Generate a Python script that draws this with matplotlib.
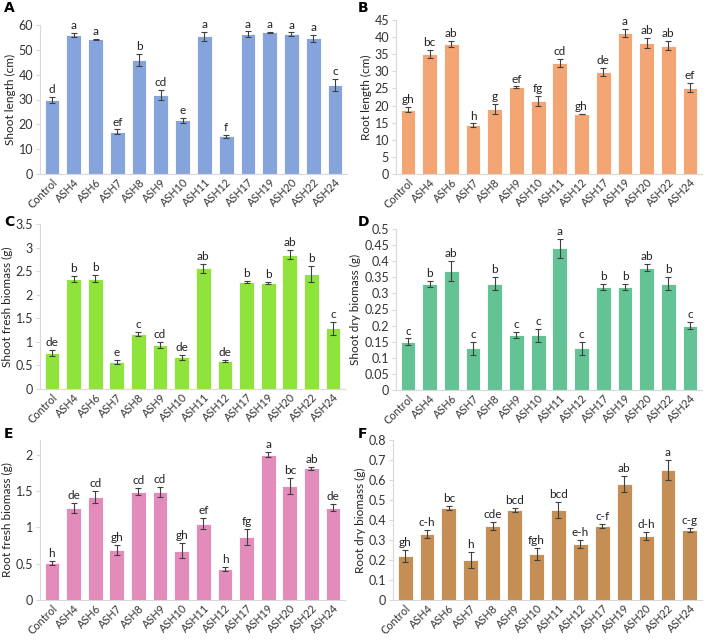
import matplotlib.pyplot as plt
import numpy as np

plt.rcParams['font.family'] = ['Lato', 'DejaVu Sans']

strains = ["Control", "ASH4", "ASH6", "ASH7", "ASH8", "ASH9", "ASH10", "ASH11",
           "ASH12", "ASH17", "ASH19", "ASH20", "ASH22", "ASH24"]

shoot_len = [29.8, 56.0, 54.3, 17.0, 45.8, 32.0, 21.6, 55.4, 15.2, 56.2, 57.0, 56.3, 54.6, 35.8]
shoot_len_err = [1.2, 0.8, 0.2, 1.0, 2.5, 2.0, 1.0, 1.7, 0.6, 1.2, 0.3, 0.7, 1.5, 2.5]
shoot_len_lbl = ["d", "a", "a", "ef", "b", "cd", "e", "a", "f", "a", "a", "a", "a", "c"]

root_len = [18.8, 35.1, 38.0, 14.3, 19.1, 25.4, 21.4, 32.4, 17.5, 29.8, 41.1, 38.3, 37.5, 25.2]
root_len_err = [0.7, 1.1, 1.0, 0.5, 1.5, 0.2, 1.5, 1.2, 0.1, 1.3, 1.2, 1.5, 1.4, 1.3]
root_len_lbl = ["gh", "bc", "ab", "h", "g", "ef", "fg", "cd", "gh", "de", "a", "ab", "ab", "ef"]

shoot_fresh = [0.76, 2.34, 2.34, 0.57, 1.16, 0.94, 0.67, 2.56, 0.59, 2.27, 2.25, 2.85, 2.44, 1.29]
shoot_fresh_err = [0.06, 0.06, 0.08, 0.04, 0.04, 0.06, 0.06, 0.10, 0.02, 0.03, 0.03, 0.10, 0.16, 0.14]
shoot_fresh_lbl = ["de", "b", "b", "e", "c", "cd", "de", "ab", "de", "b", "b", "ab", "b", "c"]

shoot_dry = [0.15, 0.33, 0.37, 0.13, 0.33, 0.17, 0.17, 0.44, 0.13, 0.32, 0.32, 0.38, 0.33, 0.20]
shoot_dry_err = [0.01, 0.01, 0.03, 0.02, 0.02, 0.01, 0.02, 0.03, 0.02, 0.01, 0.01, 0.01, 0.02, 0.01]
shoot_dry_lbl = ["c", "b", "ab", "c", "b", "c", "c", "a", "c", "b", "b", "ab", "b", "c"]

root_fresh = [0.51, 1.26, 1.42, 0.69, 1.49, 1.48, 0.68, 1.05, 0.43, 0.87, 2.00, 1.57, 1.81, 1.27]
root_fresh_err = [0.03, 0.07, 0.08, 0.07, 0.05, 0.07, 0.10, 0.08, 0.03, 0.11, 0.03, 0.11, 0.02, 0.05]
root_fresh_lbl = ["h", "de", "cd", "gh", "cd", "cd", "gh", "ef", "h", "fg", "a", "bc", "ab", "de"]

root_dry = [0.22, 0.33, 0.46, 0.20, 0.37, 0.45, 0.23, 0.45, 0.28, 0.37, 0.58, 0.32, 0.65, 0.35]
root_dry_err = [0.03, 0.02, 0.01, 0.04, 0.02, 0.01, 0.03, 0.04, 0.02, 0.01, 0.04, 0.02, 0.05, 0.01]
root_dry_lbl = ["gh", "c-h", "bc", "h", "cde", "bcd", "fgh", "bcd", "e-h", "c-f", "ab", "d-h", "a", "c-g"]

W, H = 708, 640
fig = plt.figure(figsize=(W / 100, H / 100), dpi=100)


def panel(box, tag, vals, errs, lbls, color, ylabel, ymax, step, tagpos):
    l, t, r, b = box
    ax = fig.add_axes([l / W, 1 - b / H, (r - l) / W, (b - t) / H])
    x = np.arange(len(strains))
    ax.bar(x, vals, width=0.68, color=color, edgecolor="white", linewidth=0.6, zorder=2)
    ax.errorbar(x, vals, yerr=errs, fmt="none", ecolor="#404040", elinewidth=0.8,
                capsize=2.2, capthick=0.8, zorder=3)
    for xi, v, e, s in zip(x, vals, errs, lbls):
        ax.text(xi, v + e + ymax * 0.012, s, ha="center", va="bottom", fontsize=8.5, color="#222222")
    ax.set_xlim(-0.55, len(strains) - 0.45)
    ax.set_ylim(0, ymax)
    ticks = np.arange(0, ymax + 1e-9, step)
    ax.set_yticks(ticks)
    ax.set_yticklabels(["%g" % t for t in ticks], fontsize=9, color="#333333")
    ax.set_xticks(x)
    ax.set_xticklabels(strains, rotation=45, ha="right", rotation_mode="anchor",
                       fontsize=7.8, color="#333333")
    ax.set_ylabel(ylabel, fontsize=8.5, color="#222222", labelpad=2)
    for s in ["top", "right"]:
        ax.spines[s].set_visible(False)
    for s in ["left", "bottom"]:
        ax.spines[s].set_color("#d9d9d9")
    ax.tick_params(axis="x", length=0, pad=2)
    ax.tick_params(axis="y", length=3, color="#d9d9d9", pad=2)
    fig.text(tagpos[0] / W, 1 - tagpos[1] / H, tag, fontsize=10, fontweight="bold",
             ha="left", va="center", family="DejaVu Sans")
    return ax


panel((40, 25, 347, 174), "A", shoot_len, shoot_len_err, shoot_len_lbl, "#86a4dc",
      "Shoot length (cm)", 60, 10, (4, 8))
panel((396, 20, 702, 174), "B", root_len, root_len_err, root_len_lbl, "#f4a574",
      "Root length (cm)", 45, 5, (358, 8))
panel((40, 224, 345, 389), "C", shoot_fresh, shoot_fresh_err, shoot_fresh_lbl, "#8ee43a",
      "Shoot fresh biomass (g)", 3.5, 0.5, (4, 222))
panel((396, 229, 702, 390), "D", shoot_dry, shoot_dry_err, shoot_dry_lbl, "#64c394",
      "Shoot dry biomass (g)", 0.5, 0.05, (358, 222))
panel((40, 440, 345, 600), "E", root_fresh, root_fresh_err, root_fresh_lbl, "#e38bbb",
      "Root fresh biomass (g)", 2.2, 0.5, (4, 434))
panel((393, 440, 702, 600), "F", root_dry, root_dry_err, root_dry_lbl, "#c48e54",
      "Root dry biomass (g)", 0.8, 0.1, (358, 434))

fig.savefig("out.png", dpi=100)
